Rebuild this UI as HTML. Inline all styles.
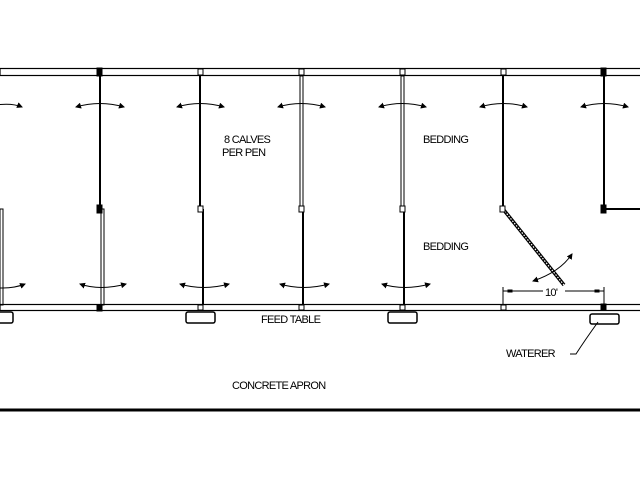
<!DOCTYPE html>
<html><head><meta charset="utf-8"><style>
html,body{margin:0;padding:0;background:#fff;width:640px;height:480px;overflow:hidden}
text{font-family:"Liberation Sans",sans-serif;font-size:11px;fill:#000;letter-spacing:-0.7px}
</style></head><body>
<svg width="640" height="480" viewBox="0 0 640 480" xmlns="http://www.w3.org/2000/svg">
<defs>
<marker id="a" markerWidth="6" markerHeight="6" refX="5" refY="3" orient="auto" markerUnits="userSpaceOnUse"><path d="M0,0 L6,3 L0,6z" fill="#000"/></marker>
<marker id="b" markerWidth="6" markerHeight="6" refX="1" refY="3" orient="auto" markerUnits="userSpaceOnUse"><path d="M6,0 L0,3 L6,6z" fill="#000"/></marker>
</defs>
<g stroke="#000" fill="none">
<rect x="0" y="68.5" width="641" height="7" stroke-width="1.2"/>
<rect x="0" y="304.5" width="641" height="6" stroke-width="1.2"/>
<line x1="0" y1="410" x2="640" y2="410" stroke-width="3"/>
<rect x="0" y="209" width="3" height="96" stroke-width="1"/>
<line x1="100" y1="76" x2="100" y2="209" stroke-width="2"/>
<rect x="101" y="209" width="3" height="96" stroke-width="1"/>
<line x1="200" y1="76" x2="200" y2="209" stroke-width="2"/>
<line x1="203" y1="209" x2="203" y2="305" stroke-width="2"/>
<rect x="300" y="76" width="3" height="133" stroke-width="1"/>
<line x1="303" y1="209" x2="303" y2="305" stroke-width="2"/>
<rect x="401" y="76" width="3" height="133" stroke-width="1"/>
<line x1="404" y1="209" x2="404" y2="305" stroke-width="2"/>
<line x1="503" y1="76" x2="503" y2="209" stroke-width="2"/>
<line x1="503" y1="209" x2="564" y2="285" stroke-width="3.5"/>
<line x1="503" y1="209" x2="564" y2="285" stroke="#fff" stroke-width="1.2" stroke-dasharray="1.5,1.5"/>
<line x1="604" y1="76" x2="604" y2="209" stroke-width="2"/>
<line x1="604" y1="209" x2="640" y2="209" stroke-width="2"/>
<g fill="#fff" stroke-width="1">
<rect x="198" y="69" width="5" height="6"/><rect x="299" y="69" width="5" height="6"/><rect x="400" y="69" width="5" height="6"/><rect x="501" y="69" width="5" height="6"/>
<rect x="198" y="206" width="5" height="6"/><rect x="299" y="206" width="5" height="6"/><rect x="400" y="206" width="5" height="6"/><rect x="500" y="206" width="5" height="6"/>
<rect x="198" y="305" width="5" height="5"/><rect x="299" y="305" width="5" height="5"/><rect x="400" y="305" width="5" height="5"/><rect x="501" y="305" width="5" height="5"/>
</g>
<g fill="#000">
<rect x="97" y="68" width="5" height="8"/><rect x="97" y="205" width="5" height="8"/><rect x="97" y="305" width="5" height="6"/>
<rect x="601" y="68" width="5" height="8"/><rect x="601" y="205" width="5" height="8"/><rect x="601" y="304" width="5" height="6"/>
</g>
<rect x="186" y="312" width="29" height="11" rx="2" stroke-width="1.5"/>
<rect x="-10" y="312" width="23" height="11" rx="2" stroke-width="1.5"/>
<rect x="388" y="312" width="29" height="11" rx="2" stroke-width="1.5"/>
<rect x="590" y="314" width="29" height="10" rx="2" stroke-width="1.5"/>
<g stroke-width="1" marker-start="url(#b)" marker-end="url(#a)">
<path d="M-10,106 Q10,102 22,107"/>
<path d="M76,107 Q100,100 124,107"/>
<path d="M177,107 Q200,100 224,107"/>
<path d="M278,107 Q301,100 325,107"/>
<path d="M379,107 Q402,100 426,107"/>
<path d="M480,107 Q503,100 527,107"/>
<path d="M581,107 Q604,100 628,107"/>
<path d="M-10,287 Q10,290 25,284"/>
<path d="M80,284 Q100,291 126,284"/>
<path d="M180,284 Q203,291 229,284"/>
<path d="M280,284 Q303,291 329,284"/>
<path d="M382,284 Q404,291 430,284"/>
</g>
<path d="M533,281 Q560,272 572,254" stroke-width="1" marker-start="url(#b)" marker-end="url(#a)"/>
<line x1="503" y1="287" x2="503" y2="305" stroke-width="1"/>
<line x1="604" y1="287" x2="604" y2="305" stroke-width="1"/>
<line x1="503" y1="291" x2="543" y2="291" stroke-width="1"/>
<line x1="565" y1="291" x2="604" y2="291" stroke-width="1"/>
<rect x="508" y="290" width="4" height="2" fill="#000"/><rect x="595" y="290" width="4" height="2" fill="#000"/>
<path d="M570,354 L576,354 Q585,340 598,322" stroke-width="1"/>
</g>
<text x="545" y="296">10'</text>
<text x="224" y="143">8 CALVES</text>
<text x="222" y="156">PER PEN</text>
<text x="423" y="143">BEDDING</text>
<text x="423" y="250">BEDDING</text>
<text x="261" y="323">FEED TABLE</text>
<text x="506" y="357">WATERER</text>
<text x="232" y="389">CONCRETE APRON</text>
</svg>
</body></html>
